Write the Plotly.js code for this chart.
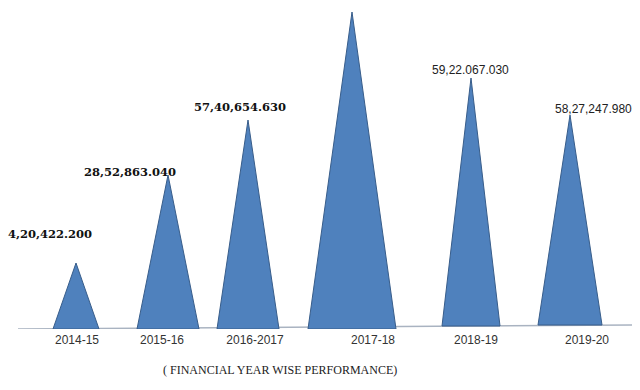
<!DOCTYPE html>
<html>
<head>
<meta charset="utf-8">
<script src="https://cdn.plot.ly/plotly-3.0.1.min.js"></script>
<style>
  html, body { margin: 0; padding: 0; background: #ffffff; }
  #chart { width: 640px; height: 390px; }
</style>
</head>
<body>
<div id="chart"></div>
<script>
// ---- data ----
const categories = ["2014-15", "2015-16", "2016-2017", "2017-18", "2018-19", "2019-20"];
// apex heights of the cones as drawn (relative units, axis hidden)
const heights = [66, 154, 209, 317, 251, 214];
// value labels as printed above the cones (2017-18 label is cut off in the picture)
const valueLabels = ["4,20,422.200", "28,52,863.040", "57,40,654.630", "", "59,22.067.030", "58,27,247.980"];

// ---- layout / style constants ----
const centers = [76, 168, 248, 352, 471, 570];
const halfWidths = [23, 31, 31, 44, 29, 32];
const bases = [0, 0, 0, 0, 3, 4];
const tickPos = [77, 162, 255, 373, 476, 587];
const labelPos = [[50, 95], [130, 157], [240, 222], [null, null], [470, 259], [593, 220]];
const serifBold = {family: "DejaVu Serif", size: 11.5, color: "#111", weight: "bold"};
const sansLabel = {family: "Liberation Sans", size: 12, color: "#222"};
const labelFont = [serifBold, serifBold, serifBold, serifBold, sansLabel, sansLabel];

const traces = categories.map((cat, i) => ({
  type: "scatter",
  mode: "lines",
  x: [centers[i] - halfWidths[i], centers[i], centers[i] + halfWidths[i], centers[i] - halfWidths[i]],
  y: [bases[i], heights[i], bases[i], bases[i]],
  fill: "toself",
  fillcolor: "#4F81BD",
  line: {color: "#385D8A", width: 1},
  hoverinfo: "skip",
  showlegend: false,
  name: cat
}));

const annotations = [];
valueLabels.forEach((t, i) => {
  if (!t) return;
  annotations.push({
    x: labelPos[i][0], y: labelPos[i][1], xref: "x", yref: "y",
    text: t, showarrow: false, xanchor: "center", yanchor: "middle",
    font: labelFont[i]
  });
});
annotations.push({
  x: 280, y: -0.1246, xref: "x", yref: "paper",
  text: "( FINANCIAL YEAR WISE PERFORMANCE)", showarrow: false,
  xanchor: "center", yanchor: "middle",
  font: {family: "Liberation Serif", size: 12, color: "#222"}
});

const layout = {
  width: 640, height: 390,
  margin: {l: 0, r: 0, t: 0, b: 61, pad: 0},
  paper_bgcolor: "#ffffff", plot_bgcolor: "#ffffff",
  xaxis: {
    range: [0, 640], showgrid: false, zeroline: false, showline: false,
    tickmode: "array", tickvals: tickPos, ticktext: categories, ticks: "",
    ticklabelstandoff: 2,
    tickfont: {family: "Liberation Sans", size: 12, color: "#333"},
    fixedrange: true
  },
  yaxis: {
    range: [0, 329], visible: false, showgrid: false, zeroline: false, fixedrange: true
  },
  shapes: [{
    type: "line", xref: "x", yref: "y", x0: 18, y0: 0, x1: 632, y1: 4,
    line: {color: "#A9B3C1", width: 1.5}, layer: "below"
  }],
  annotations: annotations,
  showlegend: false
};

Plotly.newPlot("chart", traces, layout, {displayModeBar: false, staticPlot: true});
</script>
</body>
</html>
